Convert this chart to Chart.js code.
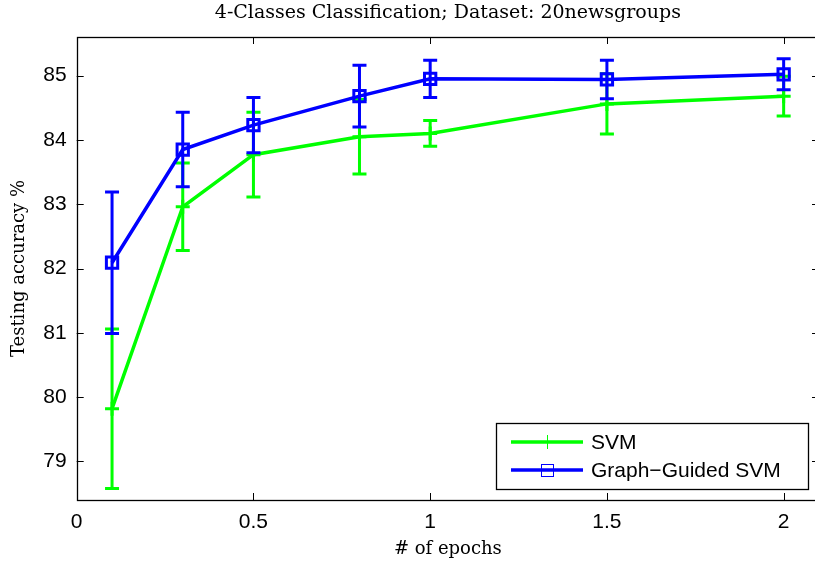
<!DOCTYPE html>
<html>
<head>
<meta charset="utf-8">
<script src="https://cdn.jsdelivr.net/npm/chart.js@4"></script>
<style>
html, body { margin:0; padding:0; background:#fff; overflow:hidden; }
#wrap { position:relative; width:822px; height:566px; }
</style>
</head>
<body>
<div id="wrap"><canvas id="acc_graph"></canvas></div>
<script>
// accuracy vs. epochs, mean and +/- error for both methods
const epochs = [0.1, 0.3, 0.5, 0.8, 1, 1.5, 2];
const svmAcc = [79.82, 82.96, 83.77, 84.05, 84.10, 84.56, 84.68];
const svmErr = [1.24, 0.68, 0.66, 0.58, 0.20, 0.47, 0.31];
const ggAcc = [82.09, 83.85, 84.23, 84.68, 84.95, 84.94, 85.02];
const ggErr = [1.10, 0.58, 0.43, 0.48, 0.29, 0.30, 0.24];
const xTicks = [0, 0.5, 1, 1.5, 2];
const yTicks = [79, 80, 81, 82, 83, 84, 85];

const sansFont = 'Liberation Sans';
const serifFont = 'DejaVu Serif';

const toPoints = (xs, ys) => xs.map((x, i) => ({x: x, y: ys[i]}));

// vertical error bars with caps, drawn right after each dataset
const errorBars = {
    id: 'errorBars',
    afterDatasetDraw(chart, args) {
        const ds = chart.data.datasets[args.index];
        if (!ds.errors) return;
        const xs = chart.scales.x, ys = chart.scales.y;
        const ctx = chart.ctx;
        ctx.save();
        ctx.strokeStyle = ds.borderColor;
        ctx.lineWidth = 3;
        ctx.lineCap = 'butt';
        ds.data.forEach((p, i) => {
            const px = xs.getPixelForValue(p.x);
            const top = ys.getPixelForValue(p.y + ds.errors[i]);
            const bot = ys.getPixelForValue(p.y - ds.errors[i]);
            ctx.beginPath();
            ctx.moveTo(px, top); ctx.lineTo(px, bot);
            ctx.moveTo(px - 7, top); ctx.lineTo(px + 7, top);
            ctx.moveTo(px - 7, bot); ctx.lineTo(px + 7, bot);
            ctx.stroke();
        });
        ctx.restore();
    }
};

// box around the plot with inward ticks on all four sides
const axesBox = {
    id: 'axesBox',
    afterDatasetsDraw(chart) {
        const {left, right, top, bottom} = chart.chartArea;
        const xs = chart.scales.x, ys = chart.scales.y;
        const ctx = chart.ctx;
        const len = 7;
        ctx.save();
        ctx.strokeStyle = '#000';
        ctx.lineWidth = 1;
        ctx.beginPath();
        xs.ticks.forEach(t => {
            const px = Math.round(xs.getPixelForValue(t.value)) + 0.5;
            ctx.moveTo(px, bottom); ctx.lineTo(px, bottom - len);
            ctx.moveTo(px, top); ctx.lineTo(px, top + len);
        });
        ys.ticks.forEach(t => {
            const py = Math.round(ys.getPixelForValue(t.value)) + 0.5;
            ctx.moveTo(left, py); ctx.lineTo(left + len, py);
            ctx.moveTo(right, py); ctx.lineTo(right - len, py);
        });
        ctx.stroke();
        ctx.lineWidth = 1.3;
        ctx.strokeRect(Math.round(left) + 0.5, Math.round(top) + 0.5,
            Math.round(right - left), Math.round(bottom - top));
        ctx.restore();
    }
};

// legend box in the lower right corner of the plot
const boxLegend = {
    id: 'boxLegend',
    afterDraw(chart) {
        const ctx = chart.ctx;
        const bx = 496, by = 423, bw = 312, bh = 66;
        ctx.save();
        ctx.fillStyle = '#fff';
        ctx.fillRect(bx, by, bw, bh);
        ctx.strokeStyle = '#000';
        ctx.lineWidth = 1.3;
        ctx.strokeRect(bx + 0.5, by + 0.5, bw, bh);
        const rows = [442, 470];
        chart.data.datasets.forEach((ds, i) => {
            const y = rows[i];
            ctx.strokeStyle = ds.borderColor;
            ctx.lineWidth = 3.5;
            ctx.beginPath();
            ctx.moveTo(511, y); ctx.lineTo(583, y);
            ctx.stroke();
            ctx.lineWidth = 1;
            if (ds.pointStyle === 'cross') {
                ctx.beginPath();
                ctx.moveTo(547.5, y - 7); ctx.lineTo(547.5, y + 7);
                ctx.stroke();
            } else {
                ctx.strokeRect(541.5, y - 5.5, 12, 12);
            }
            ctx.fillStyle = '#000';
            ctx.font = '21px "' + sansFont + '"';
            ctx.textAlign = 'left';
            ctx.textBaseline = 'middle';
            ctx.fillText(ds.label, 591, y + 1);
        });
        ctx.restore();
    }
};

const ctx = document.getElementById('acc_graph').getContext('2d');
new Chart(ctx, {
    type: 'line',
    data: {
        datasets: [
            {
                label: 'SVM',
                data: toPoints(epochs, svmAcc),
                errors: svmErr,
                borderColor: '#00ff00',
                backgroundColor: '#00ff00',
                borderWidth: 3.5,
                pointStyle: 'cross',
                pointRadius: 7,
                pointBorderWidth: 3,
                tension: 0,
                order: 2
            },
            {
                label: 'Graph\u2212Guided SVM',
                data: toPoints(epochs, ggAcc),
                errors: ggErr,
                borderColor: '#0000ff',
                backgroundColor: 'rgba(0,0,0,0)',
                borderWidth: 3.5,
                pointStyle: 'rect',
                pointRadius: 8,
                pointBorderWidth: 3,
                tension: 0,
                order: 1
            }
        ]
    },
    options: {
        responsive: true,
        maintainAspectRatio: false,
        animation: false,
        // x axis runs on to 2.1, just past the right edge of the page
        layout: { autoPadding: false, padding: { left: 0, right: 3, top: 0, bottom: 0 } },
        scales: {
            x: {
                type: 'linear',
                min: 0,
                max: 2.1,
                afterBuildTicks: s => { s.ticks = xTicks.map(v => ({value: v})); },
                afterFit: s => {
                    s.height = 66;
                    s.paddingLeft = 0;
                    s.paddingRight = 0;
                },
                grid: { display: false, drawTicks: false },
                border: { display: false },
                ticks: {
                    padding: 10,
                    color: '#000',
                    font: { family: sansFont, size: 21 },
                    callback: v => String(v)
                },
                title: {
                    display: true,
                    text: '# of epochs',
                    color: '#000',
                    font: { family: serifFont, size: 18 },
                    padding: { top: 0, bottom: 6 }
                }
            },
            y: {
                min: 78.4,
                max: 85.6,
                afterBuildTicks: s => { s.ticks = yTicks.map(v => ({value: v})); },
                afterFit: s => {
                    s.width = 76.7;
                    s.paddingTop = 0;
                    s.paddingBottom = 0;
                },
                grid: { display: false, drawTicks: false },
                border: { display: false },
                ticks: {
                    padding: 10,
                    color: '#000',
                    font: { family: sansFont, size: 21 },
                    callback: v => String(v)
                },
                title: {
                    display: true,
                    text: 'Testing accuracy %',
                    color: '#000',
                    font: { family: serifFont, size: 18 },
                    padding: { top: 9, bottom: 0 }
                }
            }
        },
        plugins: {
            legend: { display: false },
            tooltip: { enabled: false },
            title: {
                display: true,
                fullSize: false,
                text: '4-Classes Classification; Dataset: 20newsgroups',
                color: '#000',
                font: { family: serifFont, size: 19, weight: 'normal' },
                padding: { top: 2, bottom: 12.2 }
            }
        }
    },
    plugins: [errorBars, axesBox, boxLegend]
});
</script>
</body>
</html>
